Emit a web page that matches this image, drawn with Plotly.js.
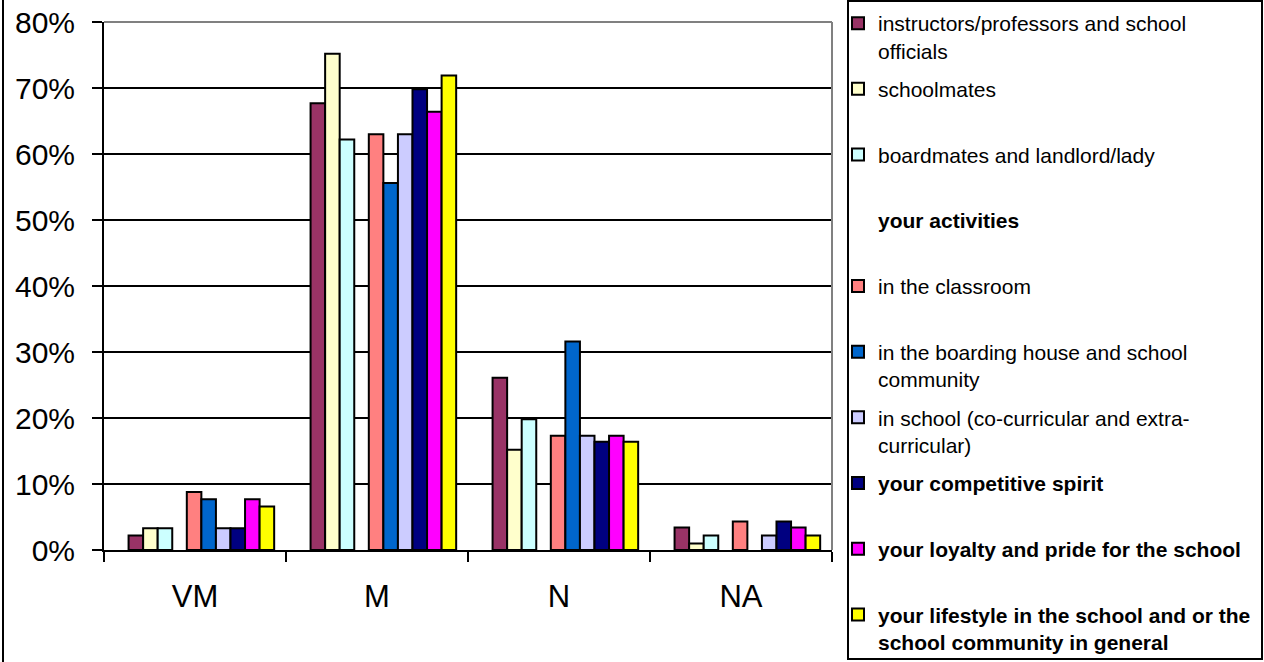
<!DOCTYPE html>
<html><head><meta charset="utf-8">
<script src="https://cdn.plot.ly/plotly-3.0.1.min.js"></script>
<style>html,body{margin:0;padding:0;background:#fff;} #chart{width:1264px;height:662px;}</style>
</head><body><div id="chart"></div>
<script>
const categories = ['VM', 'M', 'N', 'NA'];

const instructors = [2.2, 67.7, 26.1, 3.4];
const schoolmates = [3.3, 75.2, 15.2, 1.0];
const boardmates  = [3.3, 62.2, 19.8, 2.2];
const activities  = [0, 0, 0, 0];
const classroom   = [8.8, 63.0, 17.3, 4.3];
const boarding    = [7.7, 55.6, 31.6, null];
const inSchool    = [3.3, 63.0, 17.3, 2.2];
const competitive = [3.3, 69.8, 16.4, 4.3];
const loyalty     = [7.7, 66.4, 17.3, 3.4];
const lifestyle   = [6.6, 71.9, 16.4, 2.2];

const seriesNames = [
  'instructors/professors and school<br>officials',
  'schoolmates',
  'boardmates and landlord/lady',
  '<b>your activities</b>',
  'in the classroom',
  'in the boarding house and school<br>community',
  'in school (co-curricular and extra-<br>curricular)',
  '<b>your competitive spirit</b>',
  '<b>your loyalty and pride for the school</b>',
  '<b>your lifestyle in the school and or the<br>school community in general</b>'
];
const seriesValues = [instructors, schoolmates, boardmates, activities, classroom,
  boarding, inSchool, competitive, loyalty, lifestyle];
const seriesColors = ['#993366', '#FFFFCC', '#CCFFFF', 'rgba(0,0,0,0)', '#FF8080',
  '#0066CC', '#CCCCFF', '#000080', '#FF00FF', '#FFFF00'];

const FONT = 'Liberation Sans, Arial, sans-serif';
const PL = 104, PR = 832, PT = 22, PB = 550;
const px2x = p => (p - PL) / (PR - PL);
const px2y = p => (PB - p) / (PB - PT);

const traces = [];
const layout = {
  width: 1264, height: 662,
  margin: {l: PL, r: 1264 - PR, t: PT, b: 662 - PB, pad: 0, autoexpand: false},
  paper_bgcolor: '#fff', plot_bgcolor: '#fff',
  barmode: 'overlay',
  font: {family: FONT, color: '#000'},
  xaxis: {
    type: 'category', range: [-0.5, 3.5], tickson: 'boundaries', automargin: false,
    ticks: 'outside', ticklen: 10, tickwidth: 1.5, tickcolor: '#000',
    showline: true, linecolor: '#000', linewidth: 2, showgrid: false, zeroline: false,
    tickfont: {family: FONT, size: 31, color: '#000'}, ticklabelstandoff: 18, fixedrange: true
  },
  yaxis: {
    range: [0, 80], dtick: 10, tick0: 0, ticksuffix: '%', automargin: false,
    showgrid: true, gridcolor: '#000', gridwidth: 1.2,
    showline: true, linecolor: '#000', linewidth: 2, zeroline: false,
    ticks: 'outside', ticklen: 10, tickwidth: 1.5, tickcolor: '#000',
    tickfont: {family: FONT, size: 30, color: '#000'}, ticklabelstandoff: 11, fixedrange: true
  },
  shapes: [
    {type: 'line', xref: 'paper', yref: 'paper', x0: 0, x1: 1, y0: 1, y1: 1, line: {color: '#808080', width: 2}},
    {type: 'line', xref: 'paper', yref: 'paper', x0: 1, x1: 1, y0: 0, y1: 1, line: {color: '#808080', width: 2}},
    {type: 'line', xref: 'paper', yref: 'paper', x0: px2x(3), x1: px2x(3), y0: px2y(0), y1: px2y(662), line: {color: '#000', width: 2}},
    {type: 'rect', xref: 'paper', yref: 'paper', x0: px2x(848), x1: px2x(1262), y0: px2y(659), y1: px2y(1),
      line: {color: '#000', width: 2}, fillcolor: 'rgba(0,0,0,0)'}
  ]
};

seriesNames.forEach((name, i) => {
  const key = i === 0 ? 'legend' : 'legend' + (i + 1);
  const blank = i === 3;
  traces.push({
    type: 'bar', x: categories, y: seriesValues[i], name: name,
    width: 0.08, offset: -0.365 + 0.08 * i,
    marker: {color: seriesColors[i], line: {color: blank ? 'rgba(0,0,0,0)' : '#000', width: blank ? 0 : 2}},
    legend: key, showlegend: true, hoverinfo: 'skip'
  });
  const cy = 25 + 65.7 * i;
  layout[key] = {
    x: px2x(838), xanchor: 'left', y: px2y(cy - 22), yanchor: 'top',
    bgcolor: 'rgba(0,0,0,0)', borderwidth: 0, valign: 'top',
    font: {family: FONT, size: 21, color: '#000'}
  };
});

Plotly.newPlot('chart', traces, layout, {displayModeBar: false, staticPlot: true});
</script></body></html>
